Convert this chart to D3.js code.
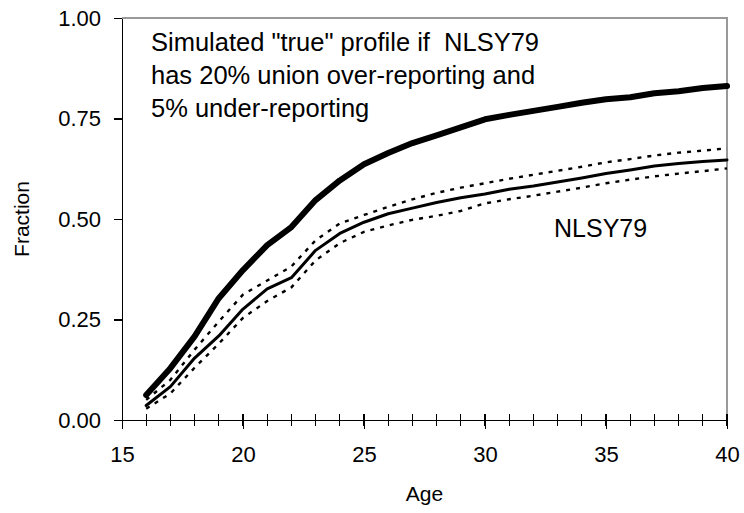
<!DOCTYPE html>
<html lang="en">
<head>
<meta charset="utf-8">
<title>Union profile by age</title>
<script src="https://cdn.jsdelivr.net/npm/d3@7"></script>
<style>
body { margin: 0; background: #fff; }
svg text { font-family: "Liberation Sans", Arial, sans-serif; fill: #000; white-space: pre; }
.axis path, .axis line { stroke: #000; stroke-width: 1.3; shape-rendering: crispEdges; }
</style>
</head>
<body>
<script>
// Data
var ages = [16, 17, 18, 19, 20, 21, 22, 23, 24, 25, 26, 27, 28, 29, 30, 31, 32, 33, 34, 35, 36, 37, 38, 39, 40];
var simulated = [0.062, 0.129, 0.208, 0.303, 0.373, 0.435, 0.48, 0.547, 0.596, 0.636, 0.664, 0.689, 0.708, 0.728, 0.748, 0.759, 0.769, 0.779, 0.789, 0.798, 0.803, 0.813, 0.818, 0.826, 0.831];
var nlsy = [0.036, 0.083, 0.154, 0.209, 0.276, 0.326, 0.354, 0.422, 0.464, 0.492, 0.513, 0.527, 0.541, 0.553, 0.562, 0.574, 0.582, 0.592, 0.602, 0.613, 0.622, 0.632, 0.638, 0.643, 0.647];
var nlsyUpper = [0.05, 0.10, 0.175, 0.245, 0.312, 0.347, 0.382, 0.447, 0.489, 0.51, 0.53, 0.549, 0.565, 0.578, 0.589, 0.6, 0.61, 0.62, 0.63, 0.641, 0.649, 0.658, 0.665, 0.67, 0.676];
var nlsyLower = [0.028, 0.066, 0.13, 0.19, 0.254, 0.296, 0.33, 0.397, 0.44, 0.468, 0.484, 0.498, 0.508, 0.52, 0.539, 0.549, 0.558, 0.568, 0.578, 0.589, 0.598, 0.606, 0.613, 0.619, 0.626];
var yTicks = [0, 0.25, 0.5, 0.75, 1];
var xTicks = [15, 20, 25, 30, 35, 40];
var noteLines = ["Simulated \"true\" profile if  NLSY79", "has 20% union over-reporting and", "5% under-reporting"];

var width = 744, height = 513;
var plotLeft = 122, plotRight = 727, plotTop = 18, plotBottom = 420;

var svg = d3.select("body").append("svg")
    .attr("width", width)
    .attr("height", height);

var x = d3.scaleLinear().domain([15, 40]).range([plotLeft, plotRight]);
var y = d3.scaleLinear().domain([0, 1]).range([plotBottom, plotTop]);

// plot frame (top and right in grey)
svg.append("path")
    .attr("d", "M" + plotLeft + "," + plotTop + "H" + plotRight + "V" + plotBottom)
    .attr("fill", "none")
    .attr("stroke", "#999")
    .attr("stroke-width", 2);

// minor x ticks, crossing the axis
svg.append("g").selectAll("line")
    .data(d3.range(16, 41))
    .enter().append("line")
    .attr("x1", function(d) { return x(d); })
    .attr("x2", function(d) { return x(d); })
    .attr("y1", plotBottom - 6)
    .attr("y2", plotBottom + 6)
    .attr("stroke", "#000")
    .attr("stroke-width", 1.2)
    .attr("shape-rendering", "crispEdges");

var xAxis = d3.axisBottom(x).tickValues(xTicks).tickSize(9).tickPadding(17).tickSizeOuter(0);
svg.append("g")
    .attr("class", "axis")
    .attr("transform", "translate(0," + plotBottom + ")")
    .call(xAxis);

var yAxis = d3.axisLeft(y).tickValues(yTicks).tickFormat(d3.format(".2f")).tickSize(8).tickPadding(13).tickSizeOuter(0);
svg.append("g")
    .attr("class", "axis")
    .attr("transform", "translate(" + plotLeft + ",0)")
    .call(yAxis);

svg.selectAll(".axis").attr("font-size", null).attr("font-family", null);
svg.selectAll(".axis text").style("font-size", "22px");

// axis titles
svg.append("text")
    .attr("x", (plotLeft + plotRight) / 2)
    .attr("y", 501)
    .attr("text-anchor", "middle")
    .style("font-size", "21px")
    .text("Age");

svg.append("text")
    .attr("transform", "translate(29," + ((plotTop + plotBottom) / 2) + ") rotate(-90)")
    .attr("text-anchor", "middle")
    .style("font-size", "21px")
    .text("Fraction");

// lines
var line = d3.line()
    .x(function(d) { return x(d[0]); })
    .y(function(d) { return y(d[1]); });

function draw(vals, w, dash) {
    svg.append("path")
        .datum(d3.zip(ages, vals))
        .attr("d", line)
        .attr("fill", "none")
        .attr("stroke", "#000")
        .attr("stroke-width", w)
        .attr("stroke-linejoin", "round")
        .attr("stroke-linecap", dash ? "butt" : "round")
        .attr("stroke-dasharray", dash || null);
}

draw(nlsyUpper, 2.4, "4,6");
draw(nlsyLower, 2.4, "4,6");
draw(nlsy, 3, null);
draw(simulated, 6, null);

// annotations
svg.append("text")
    .attr("x", 151)
    .attr("y", 51)
    .style("font-size", "25.5px")
    .selectAll("tspan")
    .data(noteLines)
    .enter().append("tspan")
    .attr("x", 151)
    .attr("dy", function(d, i) { return i ? 33 : 0; })
    .text(function(d) { return d; });

svg.append("text")
    .attr("x", 554)
    .attr("y", 237)
    .style("font-size", "25px")
    .text("NLSY79");
</script>
</body>
</html>
